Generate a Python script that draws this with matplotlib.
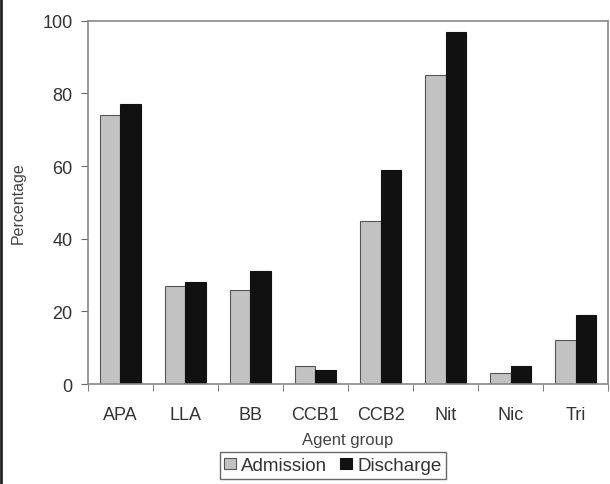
import matplotlib.pyplot as plt
import numpy as np

plt.rcParams['font.family'] = ['Liberation Sans', 'DejaVu Sans']

# dados
grupos = ['APA', 'LLA', 'BB', 'CCB1', 'CCB2', 'Nit', 'Nic', 'Tri']
admissao = [74, 27, 26, 5, 45, 85, 3, 12]
alta = [77, 28, 31, 4, 59, 97, 5, 19]

fig = plt.figure(figsize=(6.1, 4.85), dpi=100)
ax = fig.add_axes([0.144, 0.206, 0.853, 0.749])

x = np.arange(len(grupos))
w = 0.31
ax.bar(x - w / 2, admissao, w, color='#c2c2c2', edgecolor='#555555', linewidth=0.8, label='Admission')
ax.bar(x + w / 2, alta, w, color='#111111', edgecolor='#111111', linewidth=0.8, label='Discharge')

ax.set_xlim(-0.5, len(grupos) - 0.5)
ax.set_ylim(0, 100)
ax.set_yticks(range(0, 101, 20))
ax.set_xticks(x)
ax.set_xticklabels(grupos, fontsize=13, color='#333333')
ax.set_xticks(np.arange(-0.5, len(grupos), 1), minor=True)
ax.tick_params(axis='x', which='major', length=0, pad=16)
ax.tick_params(axis='x', which='minor', length=5, color='#666666')
ax.tick_params(axis='y', length=5, color='#666666', labelsize=13, labelcolor='#333333', pad=6)

for s in ax.spines.values():
    s.set_color('#888888')
    s.set_linewidth(1.2)

ax.set_xlabel('Agent group', fontsize=12, color='#444444', labelpad=6)
ax.set_ylabel('Percentage', fontsize=11.5, color='#444444', labelpad=12)

leg = ax.legend(loc='upper center', bbox_to_anchor=(0.471, -0.188), ncol=2, fontsize=13.5,
                frameon=True, fancybox=False, handlelength=0.6, handleheight=0.6,
                handletextpad=0.3, columnspacing=0.7, borderpad=0.25, borderaxespad=0)
leg.get_frame().set_edgecolor('#444444')
leg.get_frame().set_linewidth(1.0)
for t in leg.get_texts():
    t.set_color('#333333')

# borda escura a esquerda da imagem
fig.add_artist(plt.Line2D([0.002, 0.002], [0, 1], color='#222222', linewidth=2, transform=fig.transFigure))

fig.savefig('out.png', dpi=100)
